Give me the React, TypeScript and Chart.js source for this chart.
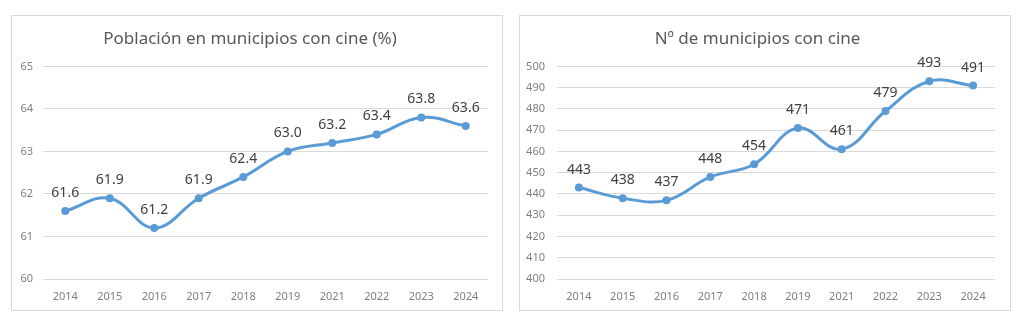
import React, { useEffect, useRef } from 'react';
import { Chart, registerables } from 'chart.js';

Chart.register(...registerables);

const years = ['2014', '2015', '2016', '2017', '2018', '2019', '2021', '2022', '2023', '2024'];
const poblacion = [61.6, 61.9, 61.2, 61.9, 62.4, 63.0, 63.2, 63.4, 63.8, 63.6];
const municipios = [443, 438, 437, 448, 454, 471, 461, 479, 493, 491];

const titlePoblacion = 'Población en municipios con cine (%)';
const titleMunicipios = 'Nº de municipios con cine';

const FONT = '"Noto Sans", "DejaVu Sans", sans-serif';

type Props = {
  title: string;
  values: number[];
  min: number;
  max: number;
  step: number;
  decimals: number;
  yWidth: number;
  tickPad: number;
  rightPad: number;
};

function LineChart({ title, values, min, max, step, decimals, yWidth, tickPad, rightPad }: Props) {
  const ref = useRef<HTMLCanvasElement>(null);
  useEffect(() => {
    if (!ref.current) return;
    const labelPlugin = {
      id: 'pointLabels',
      afterDatasetsDraw(chart: any) {
        const ctx = chart.ctx;
        const meta = chart.getDatasetMeta(0);
        ctx.save();
        ctx.font = `14px ${FONT}`;
        ctx.fillStyle = '#404040';
        ctx.textAlign = 'center';
        ctx.textBaseline = 'middle';
        meta.data.forEach((pt: any, i: number) => {
          ctx.fillText(values[i].toFixed(decimals), pt.x, pt.y - 18);
        });
        ctx.restore();
      },
    };
    const chart = new Chart(ref.current, {
      type: 'line',
      data: {
        labels: years,
        datasets: [
          {
            data: values,
            borderColor: '#5b9bd5',
            backgroundColor: '#5b9bd5',
            borderWidth: 3,
            pointRadius: 4,
            pointHoverRadius: 4,
            pointBorderWidth: 0,
            tension: 0.4,
            fill: false,
          },
        ],
      },
      options: {
        animation: false,
        responsive: false,
        layout: { padding: { left: 0, right: rightPad, top: 0, bottom: 0 } },
        plugins: {
          legend: { display: false },
          tooltip: { enabled: false },
          title: {
            display: true,
            text: title,
            color: '#595959',
            font: { family: FONT, size: 17, weight: 'normal' },
            padding: { top: 13, bottom: 17 },
          },
        },
        scales: {
          x: {
            offset: true,
            grid: { display: false },
            border: { display: false },
            ticks: { color: '#7f7f7f', font: { family: FONT, size: 11 }, padding: 3, maxRotation: 0 },
            afterFit(s: any) {
              s.height = 31;
            },
          },
          y: {
            min,
            max,
            ticks: { stepSize: step, color: '#7f7f7f', font: { family: FONT, size: 11 }, padding: tickPad },
            grid: { color: '#d9d9d9', drawTicks: false },
            border: { display: false },
            afterFit(s: any) {
              s.width = yWidth;
            },
          },
        },
      },
      plugins: [labelPlugin],
    } as any);
    return () => chart.destroy();
  }, []);
  return <canvas ref={ref} width={490} height={294} style={{ display: 'block' }} />;
}

const boxStyle = (left: number): React.CSSProperties => ({
  position: 'absolute',
  left,
  top: 15,
  width: 490,
  height: 294,
  border: '1px solid #d9d9d9',
  background: '#fff',
});

export default function App() {
  return (
    <div style={{ position: 'fixed', left: 0, top: 0, width: 1024, height: 324, background: '#fff' }}>
      <div style={boxStyle(11)}>
        <LineChart title={titlePoblacion} values={poblacion} min={60} max={65} step={1} decimals={1} yWidth={31} tickPad={10} rightPad={14} />
      </div>
      <div style={boxStyle(519)}>
        <LineChart title={titleMunicipios} values={municipios} min={400} max={500} step={10} decimals={0} yWidth={37} tickPad={12} rightPad={15} />
      </div>
    </div>
  );
}
